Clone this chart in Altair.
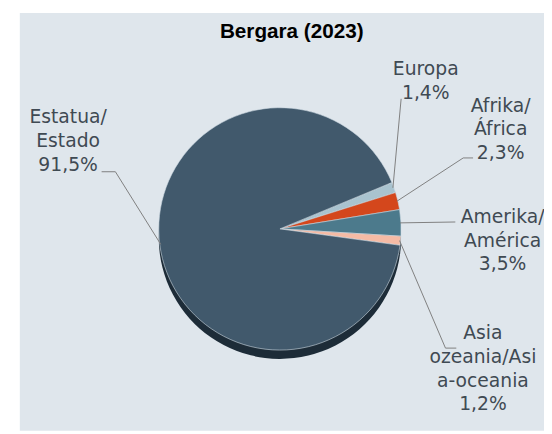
import math
import altair as alt
import pandas as pd

# ---- data ----
categories = ["Europa", "Afrika/\nÁfrica", "Amerika/\nAmérica",
              "Asia\nozeania/Asi\na-oceania", "Estatua/\nEstado"]
values = [1.4, 2.3, 3.5, 1.2, 91.5]
title_text = "Bergara (2023)"

# ---- styles / layout ----
colors = ["#a9c3cf", "#d4471c", "#4c7a8c", "#f5bba5", "#41596c"]
W, H = 532, 424
CX, CY, R = 264, 219, 123
DEPTH = 9
START = math.radians(67.5)

label_pos = [(412, 63), (488, 100), (490, 213), (470, 331), (49, 112)]
leader_path = [
    [(387, 87)],
    [(450, 147), (460, 147)],
    [(442, 212)],
    [(432, 340), (443, 340)],
    [(97, 161), (83, 161)],
]

total = sum(values)
labels = [f"{c}\n{str(v).replace('.', ',')}%" for c, v in zip(categories, values)]

df = pd.DataFrame({"cat": categories, "value": values,
                   "order": list(range(len(values))), "label": labels})

# leader lines: start on slice edge at slice mid-angle
rows = []
cum = 0.0
for i, (c, v) in enumerate(zip(categories, values)):
    mid = START + (cum + v / 2) / total * 2 * math.pi
    cum += v
    sx = CX + (R - 1) * math.sin(mid)
    sy = CY - (R - 1) * math.cos(mid)
    pts = [(sx, sy)] + leader_path[i]
    for j, (px, py) in enumerate(pts):
        rows.append({"cat": c, "seq": j, "px": px, "py": py})
lines_df = pd.DataFrame(rows)

lab_df = pd.DataFrame({"cat": categories, "label": labels,
                       "lx": [p[0] for p in label_pos],
                       "ly": [p[1] for p in label_pos]})

theta = alt.Theta("value:Q", stack=True,
                  scale=alt.Scale(range=[START, START + 2 * math.pi]))
order = alt.Order("order:Q")
color = alt.Color("cat:N", scale=alt.Scale(domain=categories, range=colors),
                  legend=None)

depth = alt.Chart(df).mark_arc(radius=R, color="#1d2c38").encode(
    theta=theta, order=order, x=alt.value(CX), y=alt.value(CY + DEPTH))

pie = alt.Chart(df).mark_arc(radius=R, stroke="#cfdbe3", strokeWidth=0.6).encode(
    theta=theta, color=color, order=order, x=alt.value(CX), y=alt.value(CY))

lines = alt.Chart(lines_df).mark_line(color="#7f7f7f", strokeWidth=1).encode(
    x=alt.X("px:Q", scale=None), y=alt.Y("py:Q", scale=None),
    detail="cat:N", order="seq:Q")

text = alt.Chart(lab_df).mark_text(
    align="center", baseline="alphabetic", lineBreak="\n", fontSize=19,
    font="DejaVu Sans", color="#3f4a53", lineHeight=24).encode(
    x=alt.X("lx:Q", scale=None), y=alt.Y("ly:Q", scale=None), text="label:N")

title = alt.Chart(pd.DataFrame({"t": [title_text]})).mark_text(
    align="center", baseline="alphabetic", fontSize=21, fontWeight="bold",
    font="Liberation Sans", color="#000000").encode(
    x=alt.value(276), y=alt.value(25), text="t:N")

chart = alt.layer(depth, pie, lines, text, title).properties(
    width=W, height=H,
    padding={"left": 12, "top": 2, "right": 0, "bottom": 0},
    autosize=alt.AutoSizeParams(type="none"),
    background="white",
).configure_view(fill="#dfe6ec", strokeWidth=0)

chart.save("out.html", embed_options={"renderer": "svg", "actions": False})
